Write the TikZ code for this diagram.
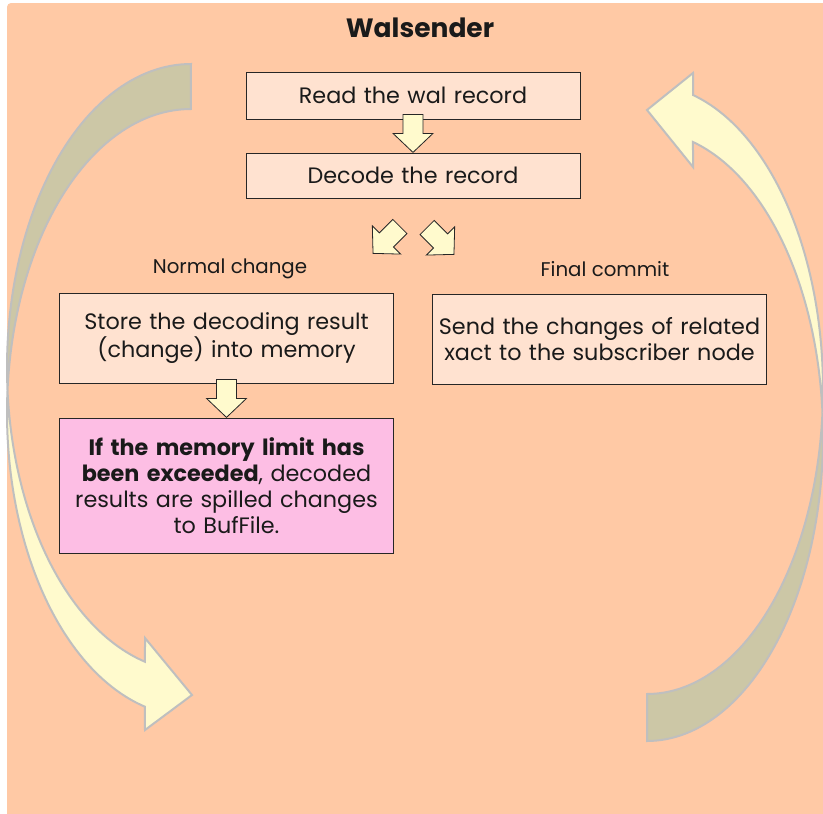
\documentclass[tikz,border=0pt]{standalone}
\usepackage{fontspec}
\setmainfont{Poppins}
\usetikzlibrary{calc}
\definecolor{bgpeach}{HTML}{FFC9A5}
\definecolor{boxfill}{HTML}{FFE2D0}
\definecolor{pinkfill}{HTML}{FDBEE4}
\definecolor{boxline}{HTML}{262626}
\definecolor{arrowyellow}{HTML}{FFFACD}
\definecolor{khaki}{HTML}{CCC7A6}
\definecolor{ringgray}{HTML}{BFBFBF}
\definecolor{ink}{HTML}{1A1A1A}
\begin{document}
\begin{tikzpicture}[x=1pt,y=-1pt,
  box/.style={draw=boxline, line width=0.8pt, fill=boxfill, text=ink,
    minimum width=334pt, text width=330pt, align=center, inner sep=0pt,
    font=\fontsize{22.3}{26}\selectfont},
  lbl/.style={text=ink, inner sep=0pt, font=\fontsize{19.8}{22}\selectfont},
  ring/.style={draw=ringgray, line width=2pt, line join=miter},
  blockarrow/.pic={\filldraw[fill=arrowyellow, draw=boxline, line width=0.8pt]
    (-10,0) -- (10,0) -- (10,19) -- (20,19) -- (0,38) -- (-20,19) -- (-10,19) -- cycle;}
]
\useasboundingbox (0,0) rectangle (823,814);
% background panel
\fill[bgpeach, rounded corners=4pt] (7,3) rectangle (840,830);

% left curved arrow: back face (upper) and front face with head (lower)
\filldraw[ring, fill=khaki]
  plot[domain=0:1, samples=60, variable=\u] ({191+184*cos(270-94.25*\u)},{367.7+303.7*sin(270-94.25*\u)})
  -- plot[domain=0:1, samples=60, variable=\u] ({191+184*cos(184.25+85.75*\u)},{412.7+303.7*sin(184.25+85.75*\u)})
  -- cycle;
\filldraw[ring, fill=arrowyellow]
  plot[domain=0:1, samples=80, variable=\u] ({191+184*cos(184.25-79.77*\u)},{412.7+303.7*sin(184.25-79.77*\u)})
  -- (145,730) -- (192,695) -- (145,638)
  -- plot[domain=0:1, samples=80, variable=\u] ({191+184*cos(104.48+71.27*\u)},{367.7+303.7*sin(104.48+71.27*\u)})
  -- cycle;

% right curved arrow: back face (lower) and front face with head (upper)
\filldraw[ring, fill=khaki]
  plot[domain=0:1, samples=60, variable=\u] ({647+176*cos(-4.42+94.42*\u)},{436.2+304.8*sin(-4.42+94.42*\u)})
  -- plot[domain=0:1, samples=60, variable=\u] ({647+176*cos(90-85.58*\u)},{389.2+304.8*sin(90-85.58*\u)})
  -- cycle;
\filldraw[ring, fill=arrowyellow]
  plot[domain=0:1, samples=80, variable=\u] ({647+176*cos(4.42-79.27*\u)},{389.2+304.8*sin(4.42-79.27*\u)})
  -- (693,73) -- (647,110) -- (693,167)
  -- plot[domain=0:1, samples=80, variable=\u] ({647+176*cos(-74.85+70.43*\u)},{436.2+304.8*sin(-74.85+70.43*\u)})
  -- cycle;

% title
\node[text=ink, inner sep=0pt, font=\fontsize{26.5}{30}\selectfont\bfseries] (title) at (420,28) {Walsender};

% processing steps
\node[box, minimum height=47pt] (read) at (413,95.5) {Read the wal record};
\node[box, minimum height=45pt] (decode) at (413,175.5) {Decode the record};
\node[lbl] (normal) at (230,269) {Normal change};
\node[lbl] (final) at (605,269) {Final commit};
\node[box, minimum height=90pt] (store) at (226.5,338) {Store the decoding result\\(change) into memory};
\node[box, minimum height=90pt] (send) at (599.5,339) {Send the changes of related\\xact to the subscriber node};
\node[box, fill=pinkfill, minimum height=135pt] (spill) at (226.5,485.5)
  {\textbf{If the memory limit has}\\\textbf{been exceeded}, decoded\\results are spilled changes\\to BufFile.};

% block arrows between the steps
\pic at ($(read.south)+(0,-5)$) {blockarrow};
\pic[rotate=-45] at ($(decode.south)+(-13.1,28.1)$) {blockarrow};
\pic[rotate=45] at ($(decode.south)+(14.1,29.1)$) {blockarrow};
\pic at ($(store.south)+(0,-4)$) {blockarrow};
\end{tikzpicture}
\end{document}
